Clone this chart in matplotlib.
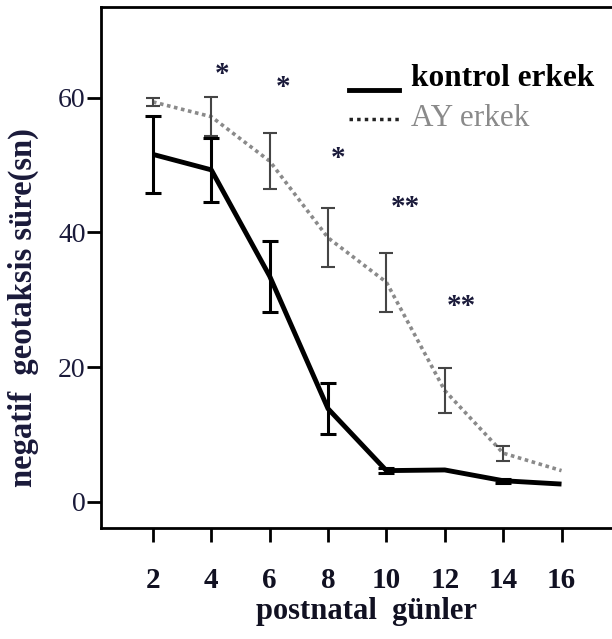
import matplotlib
matplotlib.use("Agg")
import matplotlib.pyplot as plt
from matplotlib.lines import Line2D
from matplotlib.legend_handler import HandlerLine2D

plt.rcParams["font.family"] = ["Liberation Serif", "DejaVu Serif"]

# postnatal days and mean negative geotaxis times (s)
days = [2, 4, 6, 8, 10, 12, 14, 16]
kontrol = [51.6, 49.3, 33.5, 13.8, 4.6, 4.7, 3.1, 2.6]
kontrol_err = [5.7, 4.8, 5.3, 3.8, 0.4, 0.0, 0.3, 0.0]
ay = [59.4, 57.2, 50.6, 39.2, 32.6, 16.5, 7.2, 4.6]
ay_err = [0.6, 2.9, 4.2, 4.4, 4.4, 3.3, 1.1, 0.0]

# significance markers
star_x = [4.36, 6.45, 8.33, 10.66, 12.58]
star_y = [64.2, 62.2, 51.7, 44.4, 29.7]
star_txt = ["*", "*", "*", "**", "**"]

xticks = [2, 4, 6, 8, 10, 12, 14, 16]
yticks = [0, 20, 40, 60]


class LowLine(HandlerLine2D):
    # legend sample drawn a bit below the text middle, like the scan
    def __init__(self, drop, **kw):
        super().__init__(**kw)
        self.drop = drop

    def create_artists(self, legend, orig_handle, xdescent, ydescent, width, height, fontsize, trans):
        return super().create_artists(legend, orig_handle, xdescent, ydescent + self.drop,
                                      width, height, fontsize, trans)


fig = plt.figure(figsize=(6.12, 6.39), dpi=100)
ax = fig.add_axes([0.165, 0.174, 0.835, 0.815])

# AY line (dotted grey) with error bars
ax.plot(days, ay, color="#8a8a8a", lw=2.6, linestyle=(0, (1, 1)), zorder=2)
idx = [i for i, e in enumerate(ay_err) if e > 0]
ax.errorbar([days[i] for i in idx], [ay[i] for i in idx], yerr=[ay_err[i] for i in idx],
            fmt="none", ecolor="#454545", elinewidth=1.5, capsize=5, capthick=1.5, zorder=3)

# control line (solid black) with error bars
ax.plot(days, kontrol, color="black", lw=3.5, solid_capstyle="butt", zorder=4)
idx = [i for i, e in enumerate(kontrol_err) if e > 0]
ax.errorbar([days[i] for i in idx], [kontrol[i] for i in idx], yerr=[kontrol_err[i] for i in idx],
            fmt="none", ecolor="black", elinewidth=2.2, capsize=6, capthick=2.2, zorder=5)

for x, y, t in zip(star_x, star_y, star_txt):
    ax.text(x, y - 0.7, t, ha="center", va="center", fontsize=21, fontweight="bold",
            color="#1a1a3a")

ax.set_xlim(0.22, 17.73)
ax.set_ylim(-3.9, 73.5)
ax.set_xticks(xticks)
ax.set_yticks(yticks)
ax.set_xticklabels([str(v) for v in xticks], fontsize=21, fontweight="bold", color="#111122")
ax.set_yticklabels([str(v) for v in yticks], fontsize=20, color="#1a1a3a")
ax.tick_params(axis="x", direction="out", length=10, width=2, pad=18)
ax.tick_params(axis="y", direction="out", length=10, width=2, pad=1)

for s in ["left", "top", "bottom"]:
    ax.spines[s].set_linewidth(2)
ax.spines["right"].set_visible(False)

ax.set_xlabel("postnatal  günler", fontsize=22, fontweight="bold", color="#111122", va="center")
ax.xaxis.set_label_coords(0.519, -0.161)
ax.set_ylabel("negatif  geotaksis süre(sn)", fontsize=23.5, fontweight="bold", color="#1a1a3a", va="center")
ax.yaxis.set_label_coords(-0.151, 0.422)

h_kontrol = Line2D([], [], color="black", lw=3.5)
h_ay = Line2D([], [], color="#222222", lw=2.5, linestyle=(0, (1, 1.2)))
leg = ax.legend([h_kontrol, h_ay], ["kontrol erkek", "AY erkek"], loc="upper left",
                bbox_to_anchor=(0.46, 0.915), frameon=False, fontsize=22.5,
                handlelength=1.6, handletextpad=0.4, labelspacing=0.35, borderaxespad=0,
                handler_map={h_kontrol: LowLine(22), h_ay: LowLine(6)})
leg.get_texts()[0].set_fontweight("bold")
leg.get_texts()[0].set_color("black")
leg.get_texts()[1].set_color("#8a8a8a")

fig.savefig("out.png", dpi=100)
